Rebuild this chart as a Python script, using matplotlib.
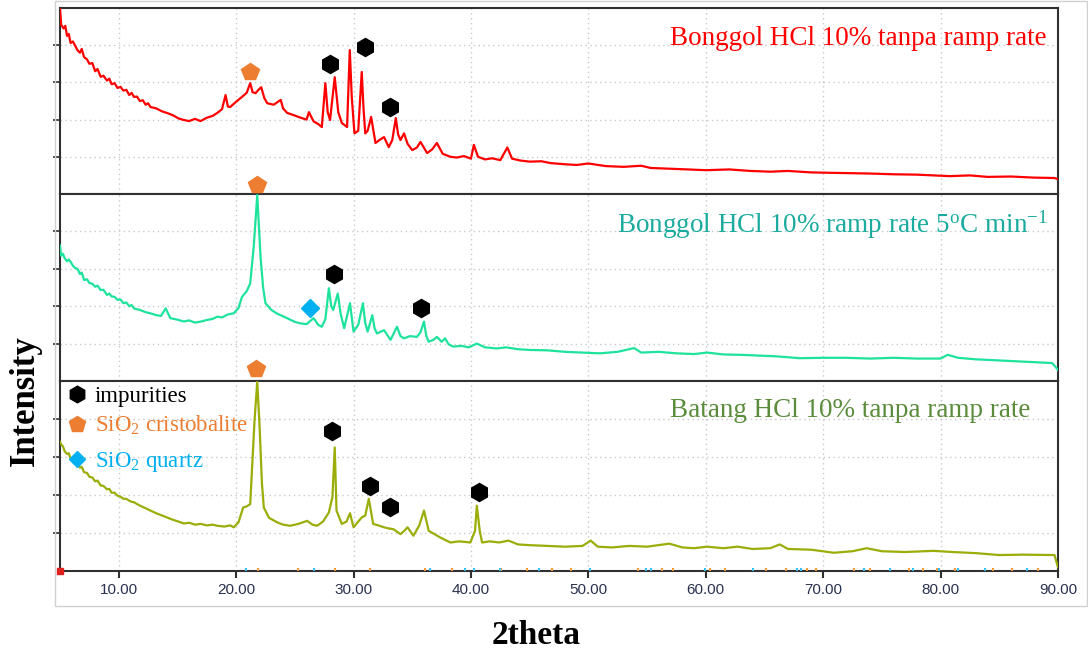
import numpy as np
import matplotlib
matplotlib.use("Agg")
import matplotlib.pyplot as plt
from matplotlib.patches import Rectangle

plt.rcParams['mathtext.fontset'] = 'custom'
plt.rcParams['mathtext.rm'] = 'Liberation Serif'
plt.rcParams['mathtext.it'] = 'Liberation Serif:italic'

# --- data (intensity in panel units, 0..5) ---
top_x = [5.0, 5.1, 5.3, 5.45, 5.6, 5.75, 5.9, 6.1, 6.3, 6.5,
         6.7, 6.85, 7.05, 7.3, 7.5, 7.75, 8.0, 8.2, 8.46, 8.7,
         9.0, 9.2, 9.4, 9.65, 9.9, 10.15, 10.4, 10.65, 10.9, 11.1,
         11.3, 11.55, 11.8, 12.05, 12.3, 12.5, 12.7,
         13.2, 13.7, 14.1, 14.6, 15.1, 15.55, 16.0, 16.5, 16.97, 17.5,
         18.0, 18.4, 18.8, 19.1, 19.3, 19.5, 20.0, 20.5, 20.9, 21.2,
         21.4, 21.66, 21.9, 22.14, 22.4, 22.65, 23.2, 23.8, 24.0, 24.35,
         24.9, 25.5, 26.0, 26.2, 26.6, 27.0, 27.3, 27.6, 27.8, 28.0,
         28.4, 28.7, 29.0, 29.45, 29.68, 29.85, 30.08, 30.4, 30.7, 30.85,
         31.0, 31.2, 31.5, 31.87, 32.2, 32.6, 33.0, 33.3, 33.6, 33.8,
         34.0, 34.3, 34.6, 35.0, 35.4, 35.7, 36.27, 36.7, 37.1, 37.6,
         38.25, 38.8, 39.4, 40.0, 40.25, 40.6, 41.2, 41.8, 42.5, 43.1,
         43.5, 44.2, 45.0, 46.0, 46.8, 48.0, 49.0, 50.0, 51.5, 53.0,
         54.5, 55.3, 57.0, 58.5, 60.0, 62.0, 63.8, 65.5, 67.0, 69.0,
         70.5, 72.3, 74.0, 76.0, 78.0, 80.8, 82.5, 84.0, 86.0, 88.0,
         89.7, 90.0]
top_y = [5.0, 4.55, 4.45, 4.52, 4.25, 4.30, 4.06, 4.10, 3.98, 3.86,
         3.80, 3.90, 3.68, 3.62, 3.50, 3.52, 3.30, 3.36, 3.15, 3.18,
         3.05, 3.10, 2.95, 2.98, 2.85, 2.88, 2.78, 2.80, 2.66, 2.72,
         2.61, 2.62, 2.50, 2.52, 2.40, 2.44, 2.34,
         2.30, 2.22, 2.18, 2.12, 2.03, 1.99, 1.96, 2.02, 1.96, 2.05,
         2.10, 2.18, 2.28, 2.66, 2.35, 2.34, 2.48, 2.61, 2.72, 2.98,
         2.74, 2.71, 2.80, 2.87, 2.58, 2.44, 2.40, 2.53, 2.30, 2.18,
         2.12, 2.05, 2.00, 2.20, 1.95, 1.88, 1.80, 2.98, 2.20, 1.99,
         3.14, 2.20, 1.91, 1.80, 3.87, 2.60, 1.63, 1.70, 3.28, 2.30,
         1.63, 1.70, 2.07, 1.37, 1.45, 1.53, 1.26, 1.45, 2.04, 1.60,
         1.45, 1.63, 1.35, 1.18, 1.25, 1.40, 1.10, 1.20, 1.37, 1.08,
         1.00, 0.98, 1.02, 0.95, 1.32, 1.00, 0.93, 0.96, 0.91, 1.25,
         0.95, 0.90, 0.87, 0.88, 0.83, 0.80, 0.78, 0.82, 0.75, 0.73,
         0.76, 0.70, 0.68, 0.66, 0.64, 0.66, 0.62, 0.60, 0.62, 0.58,
         0.57, 0.56, 0.55, 0.53, 0.52, 0.48, 0.50, 0.46, 0.47, 0.44,
         0.43, 0.40]

mid_x = [5.0, 5.1, 5.25, 5.4, 5.6, 5.75, 5.9, 6.1, 6.3, 6.5,
         6.7, 6.85, 7.05, 7.3, 7.5, 7.75, 8.0, 8.2, 8.46, 8.7,
         9.0, 9.2, 9.4, 9.65, 9.9, 10.15, 10.4, 10.65, 10.9, 11.1,
         11.3,
         11.8, 12.3, 12.7, 13.2, 13.6, 14.0, 14.4, 15.0, 15.55, 16.0,
         16.5, 17.0, 17.5, 18.0, 18.4, 18.8, 19.3, 19.8, 20.2, 20.5,
         20.9, 21.2, 21.5, 21.8, 22.08, 22.3, 22.5, 23.0, 23.5, 24.07,
         24.6, 25.0, 25.5, 26.0, 26.6, 27.0, 27.3, 27.6, 27.9, 28.1,
         28.27, 28.66, 28.9, 29.2, 29.7, 29.85, 30.0, 30.4, 30.8, 31.0,
         31.2, 31.6, 31.8, 32.0, 32.6, 33.15, 33.7, 34.0, 34.3, 34.8,
         35.4, 35.7, 36.0, 36.2, 36.4, 36.8, 37.1, 37.5, 37.8, 38.1,
         38.5, 39.2, 39.8, 40.5, 41.2, 42.2, 43.0, 44.0, 45.0, 46.5,
         48.0, 49.5, 51.0, 52.5, 53.9, 54.5, 56.0, 57.5, 59.0, 60.1,
         61.5, 63.0, 64.5, 66.0, 68.0, 70.0, 72.0, 74.0, 76.0, 78.0,
         80.0, 80.6, 81.5, 83.0, 85.0, 87.0, 89.5, 90.0]
mid_y = [3.62, 3.35, 3.40, 3.28, 3.20, 3.25, 3.19, 3.08, 3.02, 3.00,
         2.86, 2.90, 2.70, 2.72, 2.62, 2.60, 2.52, 2.55, 2.43, 2.44,
         2.30, 2.34, 2.26, 2.25, 2.17, 2.18, 2.08, 2.10, 2.00, 2.03,
         1.94,
         1.90, 1.84, 1.81, 1.76, 1.74, 1.94, 1.68, 1.64, 1.59, 1.62,
         1.56, 1.59, 1.63, 1.66, 1.72, 1.70, 1.78, 1.81, 1.95, 2.25,
         2.40, 2.61, 3.59, 4.97, 3.32, 2.50, 2.08, 1.90, 1.80, 1.72,
         1.64, 1.58, 1.54, 1.52, 1.68, 1.50, 1.45, 1.65, 2.48, 2.00,
         1.90, 2.34, 1.80, 1.41, 2.08, 1.70, 1.32, 1.50, 2.08, 1.55,
         1.32, 1.76, 1.40, 1.27, 1.36, 1.10, 1.45, 1.20, 1.14, 1.20,
         1.18, 1.30, 1.59, 1.20, 1.05, 1.10, 1.18, 1.05, 1.14, 0.98,
         0.92, 0.94, 0.90, 1.00, 0.90, 0.87, 0.90, 0.85, 0.83, 0.82,
         0.78, 0.76, 0.74, 0.78, 0.88, 0.76, 0.78, 0.74, 0.72, 0.76,
         0.71, 0.70, 0.68, 0.66, 0.61, 0.62, 0.62, 0.60, 0.62, 0.60,
         0.60, 0.70, 0.62, 0.58, 0.55, 0.52, 0.48, 0.30]

bot_x = [5.0, 5.06, 5.25, 5.4, 5.6, 5.75, 5.9, 6.1, 6.3, 6.5,
         6.7, 6.85, 7.05, 7.3, 7.5, 7.75, 8.0, 8.2, 8.46, 8.7,
         9.0, 9.2, 9.4, 9.65, 9.9, 10.15, 10.4, 10.65, 10.9, 11.1,
         11.3,
         11.8, 12.3, 12.7, 13.2, 13.7, 14.1, 14.6, 15.1, 15.55, 16.0,
         16.5, 17.0, 17.5, 18.0, 18.4, 19.0, 19.5, 19.8, 20.2, 20.6,
         20.9, 21.2, 21.57, 21.8, 22.0, 22.2, 22.36, 22.8, 23.5, 24.0,
         24.6, 25.3, 26.05, 26.5, 26.9, 27.4, 27.9, 28.2, 28.4, 28.55,
         29.0, 29.4, 29.7, 30.0, 30.4, 30.7, 31.0, 31.3, 31.67, 32.1,
         32.6, 33.0, 33.4, 34.0, 34.3, 34.6, 35.1, 35.6, 36.0, 36.4,
         37.0, 37.4, 38.25, 39.0, 39.95, 40.35, 40.5, 40.75, 40.95, 41.6,
         42.4, 43.2, 44.0, 45.0, 46.5, 48.0, 49.5, 50.2, 50.8, 52.0,
         53.5, 55.0, 56.9, 58.0, 59.0, 60.1, 61.5, 62.7, 64.0, 65.5,
         66.3, 67.0, 69.0, 70.9, 72.5, 73.7, 75.0, 77.0, 79.4, 81.0,
         83.0, 85.0, 87.0, 89.7, 90.0]
bot_y = [3.40, 3.35, 3.28, 3.15, 3.08, 3.10, 2.95, 2.92, 2.85, 2.82,
         2.72, 2.74, 2.60, 2.58, 2.48, 2.46, 2.36, 2.38, 2.25, 2.24,
         2.15, 2.16, 2.06, 2.06, 1.98, 1.96, 1.90, 1.90, 1.85, 1.82,
         1.81,
         1.72, 1.65, 1.59, 1.52, 1.46, 1.41, 1.35, 1.30, 1.25, 1.27,
         1.22, 1.24, 1.20, 1.22, 1.19, 1.17, 1.20, 1.15, 1.28, 1.67,
         1.70, 1.76, 3.97, 4.98, 3.79, 2.30, 1.67, 1.40, 1.28, 1.22,
         1.19, 1.24, 1.32, 1.22, 1.19, 1.30, 1.54, 1.94, 3.25, 1.59,
         1.24, 1.30, 1.52, 1.15, 1.30, 1.41, 1.46, 1.90, 1.24, 1.20,
         1.15, 1.12, 1.10, 0.97, 1.05, 1.15, 0.93, 1.20, 1.59, 1.06,
         0.95, 0.88, 0.75, 0.78, 0.75, 1.06, 1.72, 1.06, 0.75, 0.78,
         0.75, 0.80, 0.70, 0.68, 0.66, 0.64, 0.66, 0.80, 0.64, 0.62,
         0.66, 0.64, 0.72, 0.62, 0.60, 0.64, 0.60, 0.64, 0.58, 0.60,
         0.70, 0.58, 0.56, 0.48, 0.52, 0.60, 0.52, 0.50, 0.53, 0.50,
         0.47, 0.42, 0.43, 0.42, 0.10]

# peak markers (x, y) per panel
top_cristo = [(21.17, 3.29)]
top_impur = [(28.0, 3.49), (31.0, 3.96), (33.1, 2.35)]
mid_cristo = [(21.8, 5.24)]
mid_quartz = [(26.25, 1.96)]
mid_impur = [(28.3, 2.86), (35.75, 1.96)]
bot_cristo = [(21.7, 5.32)]
bot_impur = [(28.2, 3.68), (31.4, 2.24), (33.1, 1.69), (40.65, 2.09)]

# reference pattern sticks on the bottom axis
ref_cristo = [21.9, 25.3, 28.4, 31.4, 36.1, 38.4, 42.6, 44.8, 46.9, 48.5,
              54.2, 56.3, 57.2, 60.4, 61.6, 65.1, 66.8, 68.6, 69.4, 72.6,
              74.0, 77.3, 78.5, 79.7, 81.2, 84.5, 86.1, 88.3]
ref_quartz = [20.86, 26.64, 36.54, 39.46, 40.29, 42.45, 45.79, 50.14, 54.87,
              55.33, 59.96, 64.04, 67.74, 68.14, 73.47, 75.66, 77.67, 79.88,
              81.5, 83.8, 87.4]

titles = ["Bonggol HCl 10% tanpa ramp rate",
          "Bonggol HCl 10% ramp rate 5$^{\\mathrm{o}}$C min$^{-1}$",
          "Batang HCl 10% tanpa ramp rate"]
title_colors = ['#ff0000', '#1aab9e', '#5b8c3c']
line_colors = ['#ff0000', '#1ee39c', '#9bad08']
xticks = [10, 20, 30, 40, 50, 60, 70, 80, 90]

C_ORANGE = '#ed7d31'
C_BLUE = '#00b0f0'

W, H = 1088, 650
fig = plt.figure(figsize=(W / 100, H / 100), dpi=100)

# light frame around the plot area
fig.patches.append(Rectangle((55 / W, 1 - 605.5 / H), 1032 / W, 605 / H,
                             transform=fig.transFigure, fill=False,
                             edgecolor='#d0d0d0', lw=1.0))

left, right = 60, 1058
bounds = [(8, 194), (194, 381), (381, 571)]
axes = []
for (t, b) in bounds:
    ax = fig.add_axes([left / W, 1 - b / H, (right - left) / W, (b - t) / H])
    axes.append(ax)

series = [(top_x, top_y), (mid_x, mid_y), (bot_x, bot_y)]
title_pos = [(0.989, 0.801), (0.990, 0.791), (0.972, 0.812)]

for i, ax in enumerate(axes):
    x, y = series[i]
    ax.plot(x, y, color=line_colors[i], lw=1.6, zorder=3)
    ax.set_xlim(5, 90)
    ax.set_ylim(0, 5)
    ax.set_yticks([1, 2, 3, 4])
    ax.set_yticklabels([])
    ax.set_xticks(xticks)
    ax.grid(True, color='#c8c8c8', linestyle=(0, (1, 2.5)), lw=1.0, zorder=0)
    for s in ax.spines.values():
        s.set_color('#303030')
        s.set_linewidth(1.5)
    ax.tick_params(axis='y', direction='out', length=5, width=1.2, color='#303030')
    if i < 2:
        ax.tick_params(axis='x', length=0, labelbottom=False)
    else:
        ax.tick_params(axis='x', direction='out', length=5, width=1.5,
                       color='#303030', labelsize=11, labelcolor='#2b3150', pad=4)
        ax.set_xticklabels(['%.2f' % v for v in xticks], family='Liberation Sans')
    tx, ty = title_pos[i]
    ax.text(tx, ty, titles[i], transform=ax.transAxes, ha='right', va='baseline',
            fontsize=19.5, family='Liberation Serif', color=title_colors[i], zorder=5)

def put(ax, pts, marker, color, ms):
    for (px, py) in pts:
        ax.plot(px, py, marker=marker, color=color, ms=ms, mec=color,
                ls='none', clip_on=False, zorder=6)

put(axes[0], top_cristo, 'p', C_ORANGE, 13)
put(axes[0], top_impur, 'h', 'black', 13)
put(axes[1], mid_cristo, 'p', C_ORANGE, 13)
put(axes[1], mid_quartz, 'D', C_BLUE, 9)
put(axes[1], mid_impur, 'h', 'black', 13)
put(axes[2], bot_cristo, 'p', C_ORANGE, 13)
put(axes[2], bot_impur, 'h', 'black', 13)

# reference sticks along the bottom axis
bax = axes[2]
bax.vlines(ref_cristo, 0, 0.09, color='#f39a3c', lw=1.5, zorder=4, clip_on=False)
bax.vlines(ref_quartz, 0, 0.09, color='#37c0f0', lw=1.5, zorder=4, clip_on=False)
bax.plot(5.0, 0.0, marker='s', color='#e02020', ms=4, clip_on=False, zorder=6)

# legend built by hand inside the bottom panel
leg = [('h', 'black', 12, 0.932, 'impurities', 'black', 0.891),
       ('p', C_ORANGE, 12, 0.772, 'SiO$_2$ cristobalite', C_ORANGE, 0.733),
       ('D', C_BLUE, 8.5, 0.588, 'SiO$_2$ quartz', C_BLUE, 0.549)]
for m, mc, ms, my, label, tc, ty in leg:
    bax.plot(0.0173, my, marker=m, color=mc, mec=mc, ms=ms, ls='none',
             transform=bax.transAxes, clip_on=False, zorder=7)
    bax.text(0.035, ty, label, transform=bax.transAxes, ha='left', va='baseline',
             fontsize=16.5, family='Liberation Serif', color=tc, zorder=7)

fig.text(25 / W, 1 - 401 / H, 'Intensity', rotation=90, ha='center', va='center',
         fontsize=25, fontweight='bold', family='Liberation Serif')
fig.text(536 / W, 1 - 636 / H, '2theta', ha='center', va='center',
         fontsize=24, fontweight='bold', family='Liberation Serif')

fig.savefig('out.png', dpi=100)
